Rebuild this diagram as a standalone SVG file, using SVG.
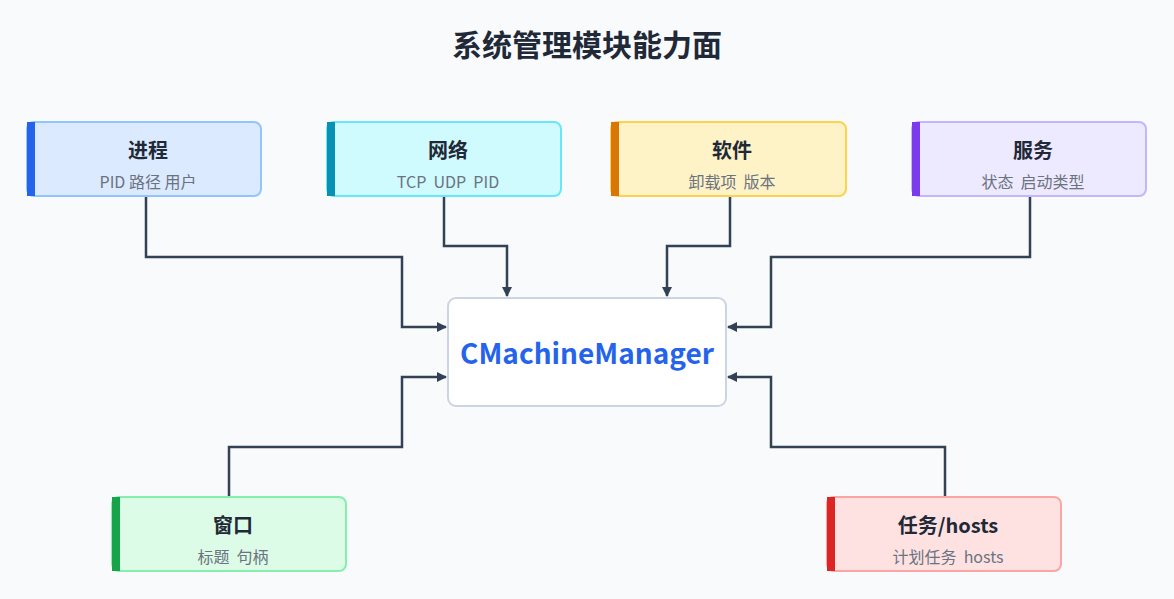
<svg xmlns="http://www.w3.org/2000/svg" width="1174" height="599" viewBox="0 0 1174 599">
<style>
text{font-family:"Noto Sans CJK SC","Noto Sans",sans-serif;text-anchor:middle}
.t{font-size:20px;font-weight:bold;fill:#1f2937}
.s{font-size:16px;fill:#6b7280}
.c{fill:none;stroke:#334155;stroke-width:2.5}
</style>
<defs><marker id="a" markerWidth="10" markerHeight="10" refX="9" refY="5" orient="auto" markerUnits="userSpaceOnUse"><path d="M0,0L10,5L0,10z" fill="#334155"/></marker></defs>
<rect width="1174" height="599" fill="#f8fafc"/>
<text x="587" y="56" style="font-size:30px;font-weight:bold;fill:#1f2937">系统管理模块能力面</text>
<g id="connectors">
<path class="c" marker-end="url(#a)" d="M146,196V257H402V327H446"/>
<path class="c" marker-end="url(#a)" d="M444,196V246H507V296"/>
<path class="c" marker-end="url(#a)" d="M730,196V246H667V296"/>
<path class="c" marker-end="url(#a)" d="M1030,196V257H771V327H728"/>
<path class="c" marker-end="url(#a)" d="M229,497V447H402V377H446"/>
<path class="c" marker-end="url(#a)" d="M945,497V447H771V377H728"/>
</g>
<g id="center"><rect x="448" y="298" width="278" height="108" rx="8" fill="#fff" stroke="#cbd5e1" stroke-width="2"/>
<text x="587" y="364" style="font-size:28px;font-weight:bold;fill:#2563eb">CMachineManager</text></g>
<g id="n1"><rect x="27" y="122" width="234" height="74" rx="7" fill="#dbeafe" stroke="#93c5fd" stroke-width="2"/><rect x="27" y="122" width="8" height="74" fill="#2563eb"/><text class="t" x="148" y="158">进程</text><text class="s" x="148" y="188">PID  路径  用户</text></g>
<g id="n2"><rect x="327" y="122" width="234" height="74" rx="7" fill="#cffafe" stroke="#67e8f9" stroke-width="2"/><rect x="327" y="122" width="8" height="74" fill="#0891b2"/><text class="t" x="448" y="158">网络</text><text class="s" x="448" y="188" xml:space="preserve">TCP  UDP  PID</text></g>
<g id="n3"><rect x="611" y="122" width="235" height="74" rx="7" fill="#fef3c7" stroke="#fcd34d" stroke-width="2"/><rect x="611" y="122" width="8" height="74" fill="#d97706"/><text class="t" x="732" y="158">软件</text><text class="s" x="732" y="188" xml:space="preserve">卸载项  版本</text></g>
<g id="n4"><rect x="912" y="122" width="234" height="74" rx="7" fill="#ede9fe" stroke="#c4b5fd" stroke-width="2"/><rect x="912" y="122" width="8" height="74" fill="#7c3aed"/><text class="t" x="1033" y="158">服务</text><text class="s" x="1033" y="188" xml:space="preserve">状态  启动类型</text></g>
<g id="n5"><rect x="112" y="497" width="234" height="74" rx="7" fill="#dcfce7" stroke="#86efac" stroke-width="2"/><rect x="112" y="497" width="8" height="74" fill="#16a34a"/><text class="t" x="233" y="533">窗口</text><text class="s" x="233" y="563" xml:space="preserve">标题  句柄</text></g>
<g id="n6"><rect x="827" y="497" width="234" height="74" rx="7" fill="#fee2e2" stroke="#fca5a5" stroke-width="2"/><rect x="827" y="497" width="8" height="74" fill="#dc2626"/><text class="t" x="948" y="533">任务/hosts</text><text class="s" x="948" y="563" xml:space="preserve">计划任务  hosts</text></g>
</svg>
